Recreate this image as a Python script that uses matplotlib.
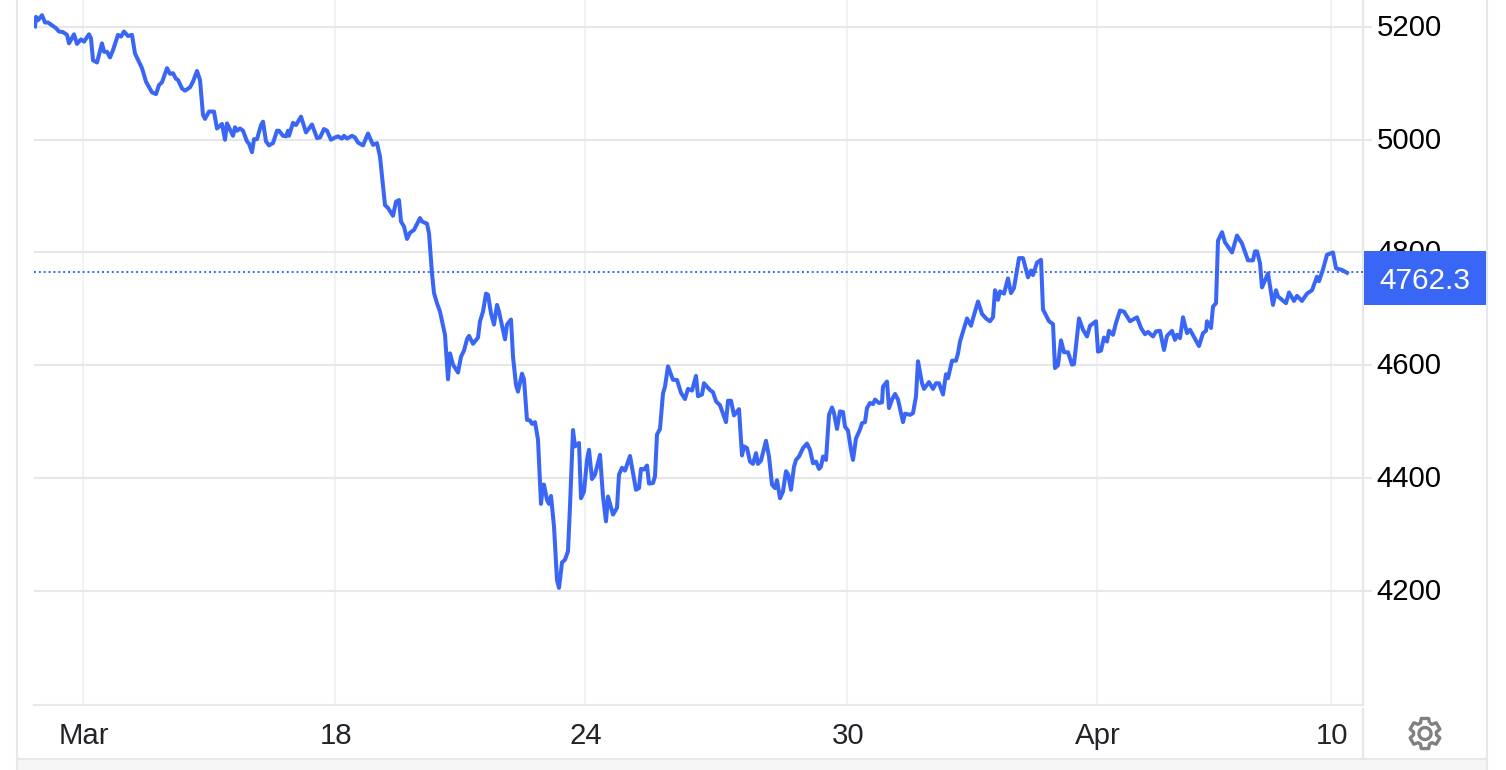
import numpy as np
import matplotlib
matplotlib.use("Agg")
import matplotlib.pyplot as plt
import matplotlib.patches as mpatches
from matplotlib.lines import Line2D
from matplotlib.transforms import ScaledTranslation

plt.rcParams['font.family'] = ['Liberation Sans', 'DejaVu Sans']

# Position along the (gap-free) time axis, and the quote
bar_pos = [
    1, 2, 4, 8, 11, 14, 22, 25, 29, 33, 35, 40, 43, 47, 50, 55, 57, 59, 63, 68,
    70, 73, 76, 79, 84, 87, 90, 94, 98, 101, 108, 112, 118, 122, 125, 128, 133, 136, 139, 142,
    144, 148, 151, 156, 159, 163, 166, 169, 171, 175, 180, 183, 188, 191, 193, 199, 201, 203, 206, 209,
    213, 215, 218, 220, 223, 227, 229, 232, 235, 239, 243, 245, 249, 252, 254, 255, 259, 262, 267, 272,
    278, 283, 286, 290, 293, 297, 301, 304, 308, 310, 313, 318, 321, 324, 329, 334, 339, 343, 346, 351,
    354, 359, 362, 365, 367, 370, 373, 376, 380, 386, 388, 393, 395,
    398, 400, 403, 406, 411, 414, 416, 419, 424, 427, 430, 433, 435, 439, 444, 446, 449, 452, 454, 457,
    460, 463, 465, 471, 473, 477, 479, 482, 484, 488, 490, 493, 496, 498, 501, 504, 507, 509, 510, 513,
    515, 517, 520, 523, 525, 528, 531, 534, 536, 539, 541, 545, 547, 550, 553, 555, 558, 561, 566, 569,
    572, 574, 579, 583, 585, 588, 591, 596, 602, 605, 607, 610, 613, 615, 619, 621, 623, 626, 629, 631, 634,
    639, 643, 647, 651, 654, 658, 662, 664, 668, 670, 676, 679, 682, 686, 692, 694, 697, 700, 705, 708,
    710, 713, 716, 719, 722, 724, 727, 732, 735, 738, 741, 743, 746, 749, 752, 754, 757, 760, 762, 765,
    769, 773, 776, 779, 782, 785, 787, 789, 792, 795, 798, 800, 803, 806, 809, 811, 814, 817, 819, 822,
    826, 828, 831, 833, 836, 839, 841, 845, 848, 849, 853, 855, 858, 861, 864, 869, 871, 876, 879, 882,
    884, 888, 890, 895, 899, 902, 905, 909, 912, 914, 918, 922, 924, 926, 933, 937, 939, 944, 948, 952,
    956, 959, 961, 964, 966, 970, 974, 977, 980, 985, 989, 994, 997, 999, 1003, 1007, 1009, 1015,
    1019, 1021, 1024, 1027, 1030, 1034, 1038, 1040, 1045, 1049, 1053, 1056, 1062, 1064, 1067, 1070, 1073, 1075, 1079, 1082,
    1086, 1090, 1096, 1103, 1107, 1111, 1114, 1119, 1122, 1126, 1130, 1133, 1138, 1141, 1143, 1146, 1149, 1153, 1156, 1165,
    1169, 1172, 1173, 1177, 1179, 1182, 1184, 1188, 1191, 1198, 1203, 1208, 1214, 1219, 1221, 1223, 1226, 1228, 1234, 1239,
    1242, 1244, 1252, 1255, 1260, 1263, 1268, 1273, 1278, 1283, 1285, 1289, 1293, 1299, 1302, 1308, 1313,
]
quote = [
    5201, 5218, 5212, 5221, 5208, 5208, 5198, 5192, 5191, 5186, 5171, 5187, 5170, 5178, 5174, 5187, 5180, 5141, 5137, 5171,
    5156, 5156, 5146, 5159, 5186, 5183, 5192, 5184, 5186, 5153, 5127, 5103, 5084, 5081, 5097, 5102, 5127, 5117, 5118, 5108,
    5106, 5091, 5087, 5093, 5103, 5122, 5106, 5044, 5037, 5050, 5050, 5020, 5028, 5000, 5029, 5007, 5022, 5016, 5020, 5016,
    4997, 4993, 4978, 5001, 5001, 5026, 5032, 4997, 4990, 4994, 5016, 5016, 5007, 5006, 5016, 5007, 5030, 5026, 5041, 5013,
    5027, 5003, 5004, 5019, 5016, 5000, 5004, 5006, 5002, 5007, 5002, 5007, 5004, 4995, 4990, 5011, 4991, 4994, 4970, 4884,
    4879, 4865, 4890, 4893, 4855, 4846, 4824, 4835, 4840, 4861, 4855, 4851, 4834,
    4763, 4728, 4710, 4695, 4654, 4575, 4621, 4601, 4587, 4615, 4626, 4646, 4652, 4638, 4649, 4678, 4695, 4727, 4725, 4692,
    4672, 4707, 4695, 4646, 4672, 4681, 4615, 4565, 4553, 4585, 4575, 4503, 4502, 4496, 4499, 4468, 4354, 4388, 4388, 4361,
    4354, 4368, 4314, 4219, 4205, 4250, 4255, 4270, 4350, 4485, 4456, 4462, 4364, 4376, 4432, 4450, 4398, 4406, 4441, 4367,
    4323, 4367, 4335, 4347, 4406, 4418, 4413, 4439, 4379, 4382, 4416, 4415, 4422, 4390, 4391, 4403, 4477, 4487, 4550, 4562, 4598,
    4574, 4574, 4551, 4540, 4558, 4555, 4581, 4545, 4548, 4568, 4556, 4552, 4536, 4529, 4499, 4537, 4537, 4511, 4522, 4440,
    4456, 4453, 4429, 4425, 4444, 4425, 4431, 4466, 4438, 4388, 4382, 4396, 4364, 4376, 4412, 4407, 4379, 4420, 4432, 4438,
    4453, 4461, 4450, 4426, 4429, 4416, 4420, 4438, 4432, 4512, 4525, 4515, 4487, 4518, 4517, 4491, 4484, 4450, 4432, 4470,
    4486, 4497, 4499, 4524, 4533, 4531, 4539, 4533, 4534, 4562, 4571, 4524, 4539, 4549, 4539, 4499, 4514, 4512, 4515, 4545,
    4607, 4568, 4558, 4570, 4558, 4568, 4568, 4548, 4584, 4577, 4608, 4608, 4621, 4642, 4683, 4670, 4683, 4713, 4691, 4683,
    4678, 4685, 4733, 4716, 4731, 4727, 4754, 4728, 4737, 4790, 4790, 4756, 4768, 4760, 4782, 4787, 4699, 4678,
    4673, 4595, 4600, 4644, 4623, 4623, 4601, 4602, 4683, 4663, 4651, 4670, 4678, 4624, 4626, 4649, 4642, 4661, 4654, 4675,
    4697, 4695, 4678, 4685, 4666, 4655, 4659, 4651, 4660, 4661, 4627, 4652, 4661, 4645, 4654, 4648, 4685, 4657, 4663, 4634,
    4657, 4661, 4678, 4666, 4704, 4710, 4821, 4836, 4818, 4800, 4830, 4816, 4786, 4786, 4802, 4802, 4781, 4738, 4763, 4707,
    4733, 4722, 4710, 4729, 4714, 4723, 4714, 4727, 4733, 4757, 4749, 4770, 4796, 4800, 4772, 4769, 4764,
]
last_price = 4762.3
guide_level = 4765  # where the dotted line actually sits on the picture

date_ticks = [49, 301, 551, 813, 1063, 1297]
date_labels = ['Mar', '18', '24', '30', 'Apr', '10']
price_ticks = [4200, 4400, 4600, 4800, 5000, 5200]

LINE_BLUE = '#3a66f6'
GRID_H = '#e7e7e7'
GRID_V = '#f0f3f6'
BORDER = '#e6e7ea'
W, H = 1506, 770

fig = plt.figure(figsize=(W / 100, H / 100), dpi=100, facecolor='white')

# plot area in pixels: x 34-1363, y 0-705
ax = fig.add_axes([34 / W, 1 - 705 / H, (1363 - 34) / W, 705 / H])
ax.set_xlim(0, 1329)
ax.set_ylim(3997.2, 5247.9)

ax.plot(bar_pos, quote, color=LINE_BLUE, linewidth=2.9, solid_joinstyle='round', zorder=4)
ax.axhline(guide_level, color=LINE_BLUE, linewidth=1.4, linestyle=(0, (1.0, 1.5)), zorder=3)

# Grid and axes
ax.set_xticks(date_ticks)
ax.set_xticklabels(date_labels)
ax.set_yticks(price_ticks)
ax.grid(True, axis='y', color=GRID_H, linewidth=1.5)
ax.grid(True, axis='x', color=GRID_V, linewidth=1.5)
ax.set_axisbelow(True)

for side in ['top', 'left']:
    ax.spines[side].set_visible(False)
ax.spines['right'].set_color(GRID_H)
ax.spines['right'].set_linewidth(1.5)
ax.spines['bottom'].set_color(GRID_H)
ax.spines['bottom'].set_linewidth(1.5)

ax.yaxis.tick_right()
ax.tick_params(axis='y', length=6.5, width=1.5, color=GRID_H, labelsize=21.2, labelcolor='black', pad=3.3)
ax.tick_params(axis='x', length=0, labelsize=21.2, labelcolor='#212529', pad=12)

# y labels sit a touch above the grid lines, date labels a touch to the right
for lab in ax.get_yticklabels():
    lab.set_transform(lab.get_transform() + ScaledTranslation(0, 2 / 100, fig.dpi_scale_trans))
for lab in ax.get_xticklabels():
    lab.set_transform(lab.get_transform() + ScaledTranslation(1 / 100, 0, fig.dpi_scale_trans))

# Current price tag sits on top of the 4800 label
to_px = fig.transFigure
tag = mpatches.Rectangle((1364 / W, 1 - 305 / H), 122 / W, 54 / H, transform=to_px,
                         facecolor=LINE_BLUE, edgecolor='none', zorder=10)
fig.add_artist(tag)
fig.text(1425 / W, 1 - 280.5 / H, f'{last_price}', color='white', fontsize=21.4,
         ha='center', va='center', zorder=11)

# Widget frame
def frame_line(xs, ys, color=BORDER, lw=1.5):
    fig.add_artist(Line2D([x / W for x in xs], [1 - y / H for y in ys], color=color, linewidth=lw,
                          transform=to_px, solid_capstyle='butt'))

band = mpatches.Rectangle((17 / W, 0), (1487 - 17) / W, 12 / H, transform=to_px,
                          facecolor='#f5f5f6', edgecolor='none')
fig.add_artist(band)
frame_line([17, 1487], [758.5, 758.5])
frame_line([17, 17], [0, 770])
frame_line([1487, 1487], [0, 770])
frame_line([1363, 1363], [708, 758])

# Settings gear
gear_cx, gear_cy = 1425, 733.5
n_teeth = 6
angles, radii = [], []
for i in range(n_teeth):
    centre = 2 * np.pi * i / n_teeth + np.pi / 2
    for off, rad in [(-0.40, 11.5), (-0.24, 15.5), (0.24, 15.5), (0.40, 11.5)]:
        angles.append(centre + off)
        radii.append(rad)
angles.append(angles[0])
radii.append(radii[0])
gear_x = [gear_cx + r * np.cos(a) for r, a in zip(radii, angles)]
gear_y = [gear_cy - r * np.sin(a) for r, a in zip(radii, angles)]
frame_line(gear_x, gear_y, color='#808080', lw=2.4)
hole = mpatches.Ellipse((gear_cx / W, 1 - gear_cy / H), 12 / W, 12 / H, transform=to_px,
                        facecolor='none', edgecolor='#808080', linewidth=2.4)
fig.add_artist(hole)

fig.savefig('out.png', dpi=100)
